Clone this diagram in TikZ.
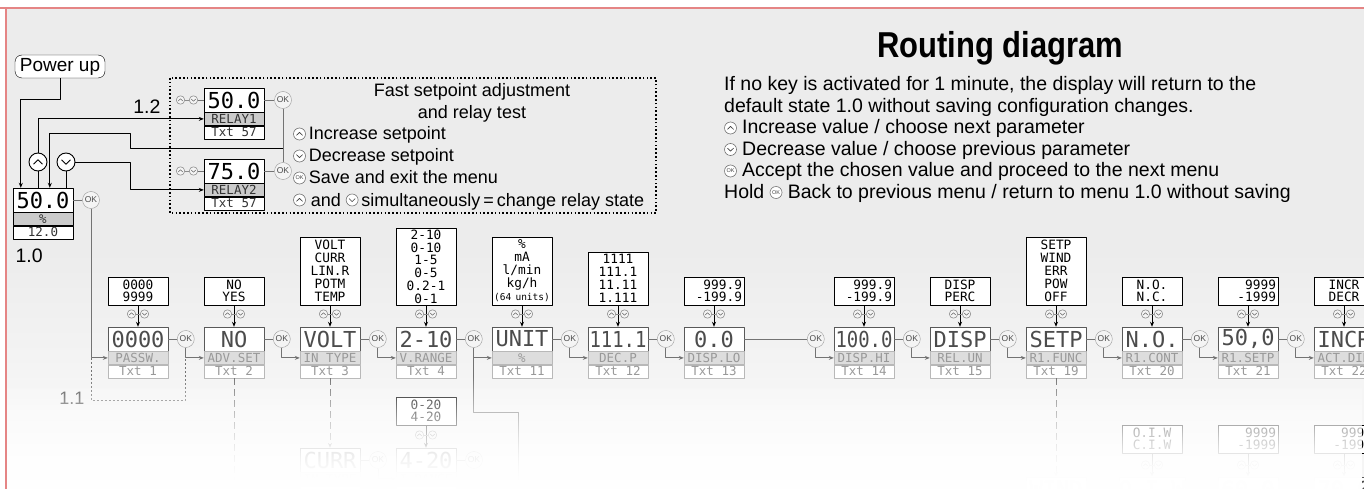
\documentclass[tikz,border=0pt]{standalone}
\usepackage{fontspec}
\usepackage{graphicx}
\setmainfont{Liberation Sans}
\newfontfamily\titlefont[FakeStretch=0.86]{Liberation Sans}
\newfontfamily\dotfont{DejaVu Sans Mono}
\usetikzlibrary{positioning,arrows.meta,fadings}

\definecolor{bggray}{HTML}{ECECEC}
\definecolor{pinkline}{HTML}{E58585}
\definecolor{labgray}{HTML}{DDDDDD}
\definecolor{relgray}{HTML}{CBCBCB}
\definecolor{okgray}{HTML}{F4F4F4}

\newcommand\dotbig{\dotfont\fontsize{22}{22}\selectfont}
\newcommand\dotsmall{\dotfont\fontsize{12.5}{13}\selectfont}
\newcommand\dotopt{\dotfont\fontsize{12.8}{12.9}\selectfont}

% a display value never gets wider than the display
\newsavebox\valbox
\newcommand\fitval[1]{\sbox\valbox{#1}%
  \ifdim\wd\valbox>57pt\resizebox{57pt}{\height}{\usebox\valbox}\else\usebox\valbox\fi}

% key symbols used inside the text
\newcommand\icup{\tikz[x=1pt,y=1pt,baseline=-6pt,line width=0.6pt]{%
  \draw[black!55,fill=white] (0,0) circle (6);
  \draw[black!75] (-3.1,-1.4) -- (0,1.6) -- (3.1,-1.4);}}
\newcommand\icdn{\tikz[x=1pt,y=1pt,baseline=-6pt,line width=0.6pt]{%
  \draw[black!55,fill=white] (0,0) circle (6);
  \draw[black!75] (-3.1,1.4) -- (0,-1.6) -- (3.1,1.4);}}
\newcommand\icok{\tikz[x=1pt,y=1pt,baseline=-6pt]{%
  \node[circle,draw=black!55,fill=white,line width=0.6pt,inner sep=0pt,
    minimum size=12pt,anchor=center,text=black!75,
    font=\fontsize{5.5}{5.5}\selectfont] at (0,0) {OK};}}

\tikzfading[name=lowfade, top color=transparent!100,
  middle color=transparent!50, bottom color=transparent!0]

\begin{document}
\begin{tikzpicture}[
  x=1pt, y=-1pt,
  line join=round,
  >={Stealth[length=5pt,width=4pt]},
  link/.style={draw=black, line width=0.9pt},
  mlink/.style={draw=black!55, line width=0.9pt},
  mval/.style={draw=black!65, fill=white, minimum width=60pt, minimum height=24pt,
    inner sep=0pt, text=black!70, font=\dotbig},
  mlab/.style={draw=black!28, fill=labgray, minimum width=60pt, minimum height=13pt,
    inner sep=0pt, text=black!40, font=\dotsmall},
  mtxt/.style={mlab, fill=white},
  rval/.style={mval, draw=black, text=black},
  rlab/.style={mlab, draw=black, fill=relgray, text=black!80},
  rtxt/.style={rlab, fill=white},
  opt/.style={draw=black, fill=white, text width=56pt, inner xsep=2pt, inner ysep=1pt,
    font=\dotopt},
  okk/.style={circle, draw=black!40, fill=okgray, minimum size=17pt, inner sep=0pt,
    text=black!70, font=\fontsize{8.5}{8.5}\selectfont},
  key/.style={circle, draw=black, fill=white, minimum size=18pt, inner sep=0pt,
    line width=0.9pt},
  note/.style={font=\fontsize{18}{22}\selectfont},
  head/.style={font=\fontsize{19.5}{22}\selectfont},
  updn/.pic={
    \draw[black!45, fill=okgray, line width=0.6pt] (-6.5,0) circle (4.2) (6.5,0) circle (4.2);
    \draw[black!45, line width=0.6pt] (-2.3,0) -- (2.3,0);
    \draw[black!60, line width=0.5pt] (-8.7,1) -- (-6.5,-1.2) -- (-4.3,1)
      (4.3,-1) -- (6.5,1.2) -- (8.7,-1);
  },
]
\useasboundingbox (0,0) rectangle (1364,489);
\clip (0,0) rectangle (1364,489);

% ── background ────────────────────────────────────────────────────────────
\fill[white] (0,0) rectangle (1364,489);
\fill[bggray] (6,8) rectangle (1364,250);
\shade[top color=bggray, bottom color=bggray!55!white] (6,250) rectangle (1364,378);
\fill[bggray!55!white] (6,378) rectangle (1364,489);

% ── title and the general notes ───────────────────────────────────────────
\node[font=\titlefont\bfseries\fontsize{36}{40}\selectfont] (ttl) at (1000,48) {Routing diagram};
\foreach \yy/\htext [count=\i] in {%
  91/{If no key is activated for 1 minute, the display will return to the},
  112.5/{default state 1.0 without saving configuration changes.},
  134/{\icup\ Increase value / choose next parameter},
  155.5/{\icdn\ Decrease value / choose previous parameter},
  177/{\icok\ Accept the chosen value and proceed to the next menu},
  198.5/{Hold \icok\ Back to previous menu / return to menu 1.0 without saving}%
} { \node[head, anchor=base west, inner sep=0pt] (hd\i) at (724,\yy) {\htext}; }

% ── power up and the main display 1.0 ─────────────────────────────────────
\node[draw, rounded corners=7pt, fill=white, minimum width=90pt, minimum height=23pt,
  inner sep=0pt, font=\fontsize{19}{19}\selectfont] (pwr) at (60,66.5) {Power up};

\node[rval] (m10v) at (43,200) {\fitval{50.0}};
\node[rlab, below=0pt of m10v] (m10l) {\%};
\node[rtxt, below=0pt of m10l] (m10t) {12.0};
\node[head, anchor=base west] (n10) at (12,262) {1.0};
\node[okk] (ok10) at (91,200) {OK};
\draw[mlink] (m10v) -- (ok10);

\node[key] (upk) at (38,162) {};
\node[key] (dnk) at (66,162) {};
\draw[line width=0.9pt] ([shift={(-4.5,2.2)}]upk.center) -- ([shift={(0,-2.3)}]upk.center)
  -- ([shift={(4.5,2.2)}]upk.center);
\draw[line width=0.9pt] ([shift={(-4.5,-2.2)}]dnk.center) -- ([shift={(0,2.3)}]dnk.center)
  -- ([shift={(4.5,-2.2)}]dnk.center);

% ── fast setpoint adjustment and relay test (1.2) ─────────────────────────
\draw[line width=1.1pt, dash pattern=on 1.6pt off 2.2pt] (170,78) rectangle (656,213);
\node[head, anchor=base east] (n12) at (164,114) {1.2};

\node[rval] (r1v) at (234,100) {\fitval{50.0}};
\node[rlab, below=0pt of r1v] (r1l) {RELAY1};
\node[rtxt, below=0pt of r1l] (r1t) {Txt 57};
\node[rval] (r2v) at (234,171) {\fitval{75.0}};
\node[rlab, below=0pt of r2v] (r2l) {RELAY2};
\node[rtxt, below=0pt of r2l] (r2t) {Txt 57};

\node[okk] (okr1) at (283,100) {OK};
\node[okk] (okr2) at (283,171) {OK};
\draw[mlink] (r1v) -- (okr1);
\draw[mlink] (r2v) -- (okr2);
\draw[mlink] (okr1) -- (okr2);
\pic at (187,100) {updn};
\pic at (187,171) {updn};
\coordinate (r1k) at (197.5,100);
\coordinate (r2k) at (197.5,171);
\draw[mlink] (r1k) -- (r1v);
\draw[mlink] (r2k) -- (r2v);

\node[note, anchor=base] (fs1) at (472,97) {Fast setpoint adjustment};
\node[note, anchor=base] (fs2) at (472,118.5) {and relay test};
\foreach \yy/\htext [count=\i from 3] in {%
  140/{\icup\,Increase setpoint},
  162/{\icdn\,Decrease setpoint},
  184/{\icok\,Save and exit the menu},
  206/{\icup\ and \icdn\,simultaneously\,=\,change relay state}%
} { \node[note, anchor=base west, inner sep=0pt] (fs\i) at (293,\yy) {\htext}; }

% connectors round 1.0
\coordinate (pwrbend) at (60,99);
\coordinate (dnbend) at (130,162);
\coordinate (ret) at (283,148);
\draw[link,->] (pwr) -- (pwrbend) -| ([xshift=8pt]m10v.north west);
\draw[link] (upk) -- (upk |- m10v.north);
\draw[link] (dnk) -- (dnk |- m10v.north);
\draw[link,->] (upk) |- (r1l);
\draw[link,->] (dnk) -- (dnbend) |- (r2l);
\draw[link,->] (ret) -- (130,148) -- (130,133) -| ([xshift=37pt]m10v.north west);

% ── the menu chain ────────────────────────────────────────────────────────
\foreach \n/\x/\val/\lab/\txt/\hh/\al/\opts in {%
  1/108/0000/PASSW./Txt 1/28/center/{0000\\9999},
  2/204/NO/ADV.SET/Txt 2/28/center/{NO\\YES},
  3/300/VOLT/IN TYPE/Txt 3/68/center/{VOLT\\CURR\\LIN.R\\POTM\\TEMP},
  4/396/2-10/V.RANGE/Txt 4/76/center/{2-10\\0-10\\1-5\\0-5\\0.2-1\\0-1},
  5/492/UNIT/\%/Txt 11/68/center/{\%\\mA\\l/min\\kg/h\\\mbox{\fontsize{9.5}{12.9}\selectfont(64 units)}},
  6/588/111.1/DEC.P/Txt 12/53/center/{1111\\111.1\\11.11\\1.111},
  7/684/0.0/DISP.LO/Txt 13/28/right/{999.9\\-199.9},
  8/834/100.0/DISP.HI/Txt 14/28/right/{999.9\\-199.9},
  9/930/DISP/REL.UN/Txt 15/28/center/{DISP\\PERC},
  10/1026/SETP/R1.FUNC/Txt 19/68/center/{SETP\\WIND\\ERR\\POW\\OFF},
  11/1122/N.O./R1.CONT/Txt 20/28/center/{N.O.\\N.C.},
  12/1218/{50,0}/R1.SETP/Txt 21/28/right/{9999\\-1999},
  13/1314/INCR/ACT.DIR/Txt 22/28/center/{INCR\\DECR}%
} {
  \node[mval] (v\n) at (\x+30,339) {\fitval{\val}};
  \node[mlab, below=0pt of v\n] (l\n) {\lab};
  \node[mtxt, below=0pt of l\n] (t\n) {\txt};
  \node[opt, minimum height=\hh pt, align=\al, anchor=south] (o\n) at (\x+30,305) {\opts};
  \draw[link,->] (o\n) -- (v\n);
  \pic at (\x+30,314) {updn};
}

\draw[mlink,->] (ok10) |- (l1);
\foreach \i/\j in {1/2,2/3,3/4,4/5,5/6,6/7,7/8,8/9,9/10,10/11,11/12,12/13} {
  \node[okk] (k\i) at ([xshift=-18pt]v\j.west) {OK};
  \draw[mlink] (v\i) -- (k\i);
  \draw[mlink,->] (k\i) |- (l\j);
}

% ── the branches that run off below ───────────────────────────────────────
\draw[mlink, dash pattern=on 2pt off 2pt] (ok10 |- l1) -- (ok10 |- 0,400) -| (k1 |- l1);
\node[head, anchor=east, text=black!70, font=\fontsize{18}{18}\selectfont] (n11)
  at ([xshift=-3pt]ok10 |- 0,398) {1.1};
\draw[mlink, dash pattern=on 7pt off 4pt] (t2) -- (t2 |- 0,489);

\node[opt, minimum height=28pt, align=center, anchor=south] (o14) at (426,425) {0-20\\4-20};
\node[mval] (cv) at (330,460) {CURR};
\node[mlab, below=0pt of cv] (cl) {IN TYPE};
\node[mtxt, below=0pt of cl] (ct) {};
\node[mval] (iv) at (426,460) {4-20};
\node[mlab, below=0pt of iv] (il) {I.RANGE};
\node[mtxt, below=0pt of il] (it) {};
\node[okk] (kc) at (378,460) {OK};
\node[okk] (ki) at (474,460) {OK};
\draw[mlink, dash pattern=on 7pt off 4pt, ->] (t3) -- (cv);
\draw[link,->] (o14) -- (iv);
\pic at (426,435) {updn};
\draw[mlink] (cv) -- (kc);
\draw[mlink,->] (kc) |- (il);
\draw[mlink] (iv) -- (ki);
\draw[mlink] (k4) -- (k4 |- 0,412) -- (518,412) -- (518,489);

\draw[mlink, dash pattern=on 7pt off 4pt, ->] (t10) -- (1056,477);
\node[mval] (wv) at (1056,489) {WIND};
\foreach \n/\x/\val/\al/\opts in {%
  15/1122/O.I.W/center/{O.I.W\\C.I.W},
  16/1218/60.0/right/{9999\\-1999},
  17/1314/70.0/right/{9999\\-1999}%
} {
  \node[mval] (v\n) at (\x+30,489) {\val};
  \node[opt, minimum height=28pt, align=\al, anchor=south] (o\n) at (\x+30,453) {\opts};
  \draw[link,->] (o\n) -- (v\n);
  \pic at (\x+30,465) {updn};
  \node[okk] (k\n) at ([xshift=-18pt]v\n.west) {OK};
}
\draw[mlink] (wv) -- (k15);
\draw[mlink] (v15) -- (k16);
\draw[mlink] (v16) -- (k17);

% ── fade towards the bottom, and the frame ────────────────────────────────
\fill[white, path fading=lowfade] (7,376) rectangle (1364,489);
\fill[white, path fading=lowfade] (7,376) rectangle (1364,489);
\draw[pinkline, line width=2.5pt] (0,8) -- (1364,8);
\draw[pinkline, line width=2.5pt] (6,8) -- (6,489);

\end{tikzpicture}
\end{document}
